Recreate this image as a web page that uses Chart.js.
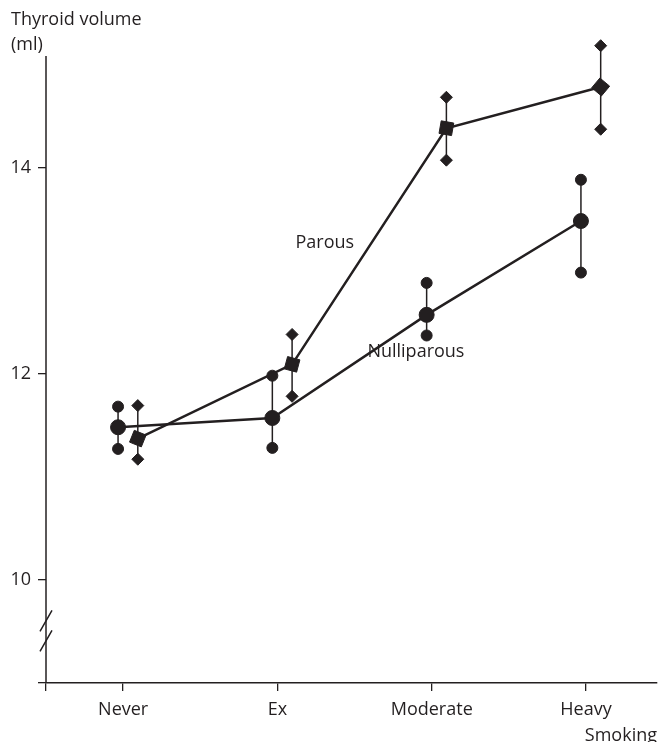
<!DOCTYPE html>
<html>
<head>
<meta charset="utf-8">
<script src="https://cdn.jsdelivr.net/npm/chart.js@4/dist/chart.umd.min.js"></script>
<style>
  body { margin: 0; background: #fff; }
</style>
</head>
<body>
<canvas id="myChart" width="660" height="742"></canvas>
<script>
'use strict';

var categories = ['Never', 'Ex', 'Moderate', 'Heavy'];

var nulliMean = [11.48, 11.57, 12.57, 13.48];
var nulliLow = [11.27, 11.28, 12.37, 12.98];
var nulliHigh = [11.68, 11.98, 12.88, 13.88];

var parousMean = [11.37, 12.09, 14.38, 14.78];
var parousLow = [11.17, 11.78, 14.07, 14.37];
var parousHigh = [11.69, 12.38, 14.68, 15.18];

var yTicks = [10, 12, 14];

var ink = '#231f20';
var fontFamily = '"Open Sans", "Noto Sans", sans-serif';

// small horizontal shift so the two groups don't sit on top of each other
var nulliShift = -0.033;
var parousShift = 0.095;
// where the drawn y axis line stops (the plot area goes a bit higher for the top marker)
var yAxisTop = 15.08;

function meanPoints(values, shift) {
  var pts = [];
  for (var i = 0; i < values.length; i++) {
    pts.push({ x: i + 1 + shift, y: values[i] });
  }
  return pts;
}

var datasets = [];

datasets.push({
  data: meanPoints(nulliMean, nulliShift),
  showLine: true,
  clip: false,
  borderColor: ink,
  backgroundColor: ink,
  borderWidth: 2.5,
  pointStyle: 'circle',
  pointRadius: 7.5,
  pointBorderWidth: 1
});

datasets.push({
  data: meanPoints(parousMean, parousShift),
  showLine: true,
  clip: false,
  borderColor: ink,
  backgroundColor: ink,
  borderWidth: 2.5,
  pointStyle: 'rect',
  pointRotation: [22, 15, 10, 40],
  pointRadius: 9,
  pointBorderWidth: 1
});

// error bars: one little dataset per category and group
for (var i = 0; i < categories.length; i++) {
  datasets.push({
    data: [
      { x: i + 1 + nulliShift, y: nulliLow[i] },
      { x: i + 1 + nulliShift, y: nulliHigh[i] }
    ],
    showLine: true,
    clip: false,
    borderColor: ink,
    backgroundColor: ink,
    borderWidth: 1.5,
    pointStyle: 'circle',
    pointRadius: 5.5,
    pointBorderWidth: 1
  });
  datasets.push({
    data: [
      { x: i + 1 + parousShift, y: parousLow[i] },
      { x: i + 1 + parousShift, y: parousHigh[i] }
    ],
    showLine: true,
    clip: false,
    borderColor: ink,
    backgroundColor: ink,
    borderWidth: 1.5,
    pointStyle: 'rectRot',
    pointRadius: 6,
    pointBorderWidth: 1
  });
}

var extras = {
  id: 'extras',
  beforeDatasetsDraw: function(chart) {
    // y axis line, stopping short of the top of the plot area
    var ys = chart.scales.y;
    var ctx = chart.ctx;
    var x = chart.chartArea.left;
    ctx.save();
    ctx.strokeStyle = ink;
    ctx.lineWidth = 1.5;
    ctx.beginPath();
    ctx.moveTo(x, ys.getPixelForValue(yAxisTop));
    ctx.lineTo(x, ys.getPixelForValue(9));
    ctx.stroke();
    ctx.restore();
  },
  afterDraw: function(chart) {
    var ctx = chart.ctx;
    var xs = chart.scales.x;
    var ys = chart.scales.y;
    ctx.save();
    ctx.fillStyle = ink;
    ctx.font = '18px ' + fontFamily;
    ctx.textAlign = 'left';
    ctx.textBaseline = 'middle';
    ctx.fillText('Thyroid volume', 11, 20);
    ctx.fillText('(ml)', 11, 45);

    ctx.fillText('Parous', xs.getPixelForValue(2.117), ys.getPixelForValue(13.27));
    ctx.fillText('Nulliparous', xs.getPixelForValue(2.583), ys.getPixelForValue(12.21));

    // axis break
    var bx = chart.chartArea.left;
    var by = ys.getPixelForValue(9.5);
    ctx.strokeStyle = ink;
    ctx.lineWidth = 1.5;
    ctx.beginPath();
    ctx.moveTo(bx - 6, by);
    ctx.lineTo(bx + 6, by - 21);
    ctx.moveTo(bx - 6, by + 20);
    ctx.lineTo(bx + 6, by - 1);
    ctx.stroke();
    ctx.restore();
  }
};

var ctx = document.getElementById('myChart');

var myChart = new Chart(ctx, {
  type: 'scatter',
  data: { datasets: datasets },
  options: {
    responsive: false,
    animation: false,
    layout: { autoPadding: false, padding: { top: 38.5, right: 3, left: 0, bottom: 0 } },
    plugins: {
      legend: { display: false },
      tooltip: { enabled: false }
    },
    scales: {
      x: {
        type: 'linear',
        min: 0.5,
        max: 4.46,
        afterBuildTicks: function(scale) {
          scale.ticks = [0.5, 1, 2, 3, 4].map(function(v) { return { value: v }; });
        },
        afterFit: function(scale) { scale.height = 59; },
        ticks: {
          color: ink,
          font: { family: fontFamily, size: 18 },
          padding: 8,
          maxRotation: 0,
          autoSkip: false,
          callback: function(value) {
            return categories[value - 1] || '';
          }
        },
        grid: { drawOnChartArea: false, tickLength: 8, color: ink, lineWidth: 1.3 },
        border: { display: true, color: ink, width: 1.5 },
        title: {
          display: true,
          text: 'Smoking',
          align: 'end',
          color: ink,
          font: { family: fontFamily, size: 18 },
          padding: { top: 0, bottom: -5 }
        }
      },
      y: {
        min: 9,
        max: 15.25,
        afterBuildTicks: function(scale) {
          scale.ticks = [9].concat(yTicks).map(function(v) { return { value: v }; });
        },
        afterFit: function(scale) { scale.width = 46; },
        ticks: {
          color: ink,
          font: { family: fontFamily, size: 18 },
          padding: 7,
          callback: function(value) {
            return yTicks.indexOf(value) >= 0 ? String(value) : '';
          }
        },
        grid: { drawOnChartArea: false, tickLength: 8, color: ink, lineWidth: 1.3 },
        border: { display: false }
      }
    }
  },
  plugins: [extras]
});
</script>
</body>
</html>
